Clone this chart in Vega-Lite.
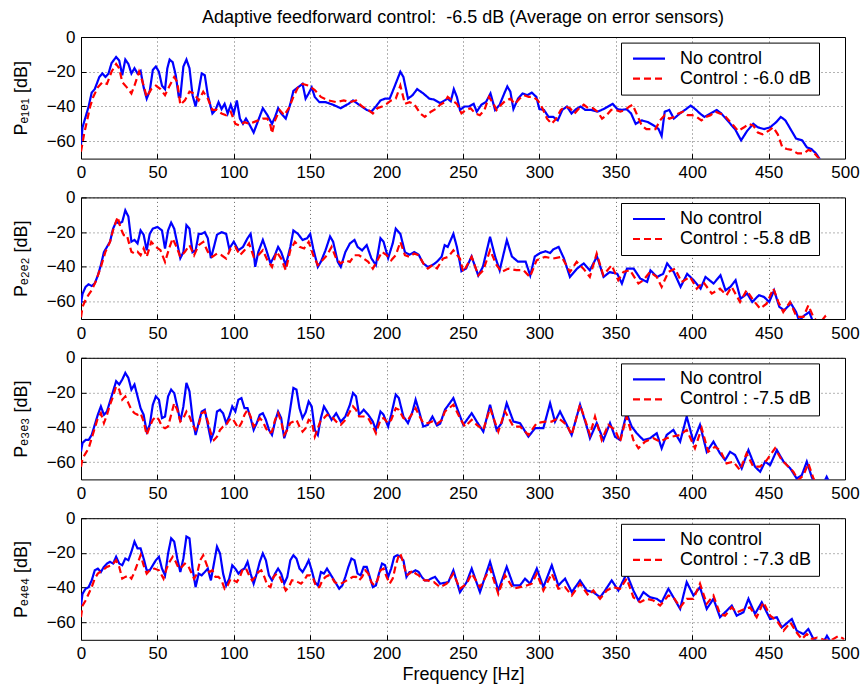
{
"$schema": "https://vega.github.io/schema/vega-lite/v6.json",
"background": "white",
"padding": {"left": 11, "top": 8, "right": 10, "bottom": 5},
"title": {"text": "Adaptive feedforward control:\u00a0 -6.5 dB (Average on error sensors)", "fontSize": 18, "fontWeight": "normal", "font": "Liberation Sans", "color": "#000", "anchor": "middle", "frame": "group", "offset": 1},
"config": {
 "font": "Liberation Sans",
 "view": {"stroke": "#000", "strokeWidth": 1},
 "axis": {"labelFontSize": 17, "labelColor": "#000", "titleFontSize": 18, "titleFontWeight": "normal", "titleColor": "#000", "grid": true, "gridColor": "#000", "gridDash": [1, 3], "gridOpacity": 0.6, "gridWidth": 1, "domain": false, "tickColor": "#000", "tickSize": -5, "labelFlush": false, "labelOverlap": false},
 "axisX": {"labelPadding": 11, "titlePadding": 4},
 "axisY": {"labelPadding": 11, "titlePadding": 16},
 "legend": {"symbolType": "M-3.2,0H3.2", "symbolSize": 100, "symbolStrokeWidth": 2.2, "symbolOffset": 12, "labelFontSize": 18, "labelColor": "#000", "labelOffset": 22, "padding": 7, "strokeColor": "#000", "fillColor": "#fff", "rowPadding": 2}
},
"spacing": 38.4,
"bounds": "flush",
"resolve": {"scale": {"color": "independent", "strokeDash": "independent"}, "legend": {"color": "independent", "strokeDash": "independent"}},
"vconcat": [
 {"width": 764, "height": 121.6, "layer": [
  {"data": {"name": "p1n"}, "mark": {"type": "line", "strokeWidth": 2.2, "clip": true}, "encoding": {
   "x": {"field": "f", "type": "quantitative", "scale": {"domain": [0, 500], "nice": false}, "axis": {"values": [0,50,100,150,200,250,300,350,400,450,500], "title": null}},
   "y": {"field": "v", "type": "quantitative", "scale": {"domain": [-70, 0], "nice": false}, "axis": {"values": [0,-20,-40,-60], "title": "Pₑ₁ₑ₁  [dB]"}},
   "color": {"datum": "No control", "type": "nominal", "scale": {"domain": ["No control", "Control : -6.0 dB"], "range": ["#0000ff", "#ff0000"]}, "legend": {"title": null, "orient": "none", "legendX": 540, "legendY": 5.6}},
   "strokeDash": {"datum": "No control", "type": "nominal", "scale": {"domain": ["No control", "Control : -6.0 dB"], "range": [[1, 0], [7, 4]]}, "legend": {"title": null, "orient": "none", "legendX": 540, "legendY": 5.6}}}},
  {"data": {"name": "p1c"}, "mark": {"type": "line", "strokeWidth": 2.2, "clip": true}, "encoding": {
   "x": {"field": "f", "type": "quantitative"},
   "y": {"field": "v", "type": "quantitative"},
   "color": {"datum": "Control : -6.0 dB", "type": "nominal"},
   "strokeDash": {"datum": "Control : -6.0 dB", "type": "nominal"}}}
 ]},
 {"width": 764, "height": 121.6, "layer": [
  {"data": {"name": "p2n"}, "mark": {"type": "line", "strokeWidth": 2.2, "clip": true}, "encoding": {
   "x": {"field": "f", "type": "quantitative", "scale": {"domain": [0, 500], "nice": false}, "axis": {"values": [0,50,100,150,200,250,300,350,400,450,500], "title": null}},
   "y": {"field": "v", "type": "quantitative", "scale": {"domain": [-70, 0], "nice": false}, "axis": {"values": [0,-20,-40,-60], "title": "Pₑ₂ₑ₂  [dB]"}},
   "color": {"datum": "No control", "type": "nominal", "scale": {"domain": ["No control", "Control : -5.8 dB"], "range": ["#0000ff", "#ff0000"]}, "legend": {"title": null, "orient": "none", "legendX": 540, "legendY": 5.6}},
   "strokeDash": {"datum": "No control", "type": "nominal", "scale": {"domain": ["No control", "Control : -5.8 dB"], "range": [[1, 0], [7, 4]]}, "legend": {"title": null, "orient": "none", "legendX": 540, "legendY": 5.6}}}},
  {"data": {"name": "p2c"}, "mark": {"type": "line", "strokeWidth": 2.2, "clip": true}, "encoding": {
   "x": {"field": "f", "type": "quantitative"},
   "y": {"field": "v", "type": "quantitative"},
   "color": {"datum": "Control : -5.8 dB", "type": "nominal"},
   "strokeDash": {"datum": "Control : -5.8 dB", "type": "nominal"}}}
 ]},
 {"width": 764, "height": 121.6, "layer": [
  {"data": {"name": "p3n"}, "mark": {"type": "line", "strokeWidth": 2.2, "clip": true}, "encoding": {
   "x": {"field": "f", "type": "quantitative", "scale": {"domain": [0, 500], "nice": false}, "axis": {"values": [0,50,100,150,200,250,300,350,400,450,500], "title": null}},
   "y": {"field": "v", "type": "quantitative", "scale": {"domain": [-70, 0], "nice": false}, "axis": {"values": [0,-20,-40,-60], "title": "Pₑ₃ₑ₃  [dB]"}},
   "color": {"datum": "No control", "type": "nominal", "scale": {"domain": ["No control", "Control : -7.5 dB"], "range": ["#0000ff", "#ff0000"]}, "legend": {"title": null, "orient": "none", "legendX": 540, "legendY": 5.6}},
   "strokeDash": {"datum": "No control", "type": "nominal", "scale": {"domain": ["No control", "Control : -7.5 dB"], "range": [[1, 0], [7, 4]]}, "legend": {"title": null, "orient": "none", "legendX": 540, "legendY": 5.6}}}},
  {"data": {"name": "p3c"}, "mark": {"type": "line", "strokeWidth": 2.2, "clip": true}, "encoding": {
   "x": {"field": "f", "type": "quantitative"},
   "y": {"field": "v", "type": "quantitative"},
   "color": {"datum": "Control : -7.5 dB", "type": "nominal"},
   "strokeDash": {"datum": "Control : -7.5 dB", "type": "nominal"}}}
 ]},
 {"width": 764, "height": 121.6, "layer": [
  {"data": {"name": "p4n"}, "mark": {"type": "line", "strokeWidth": 2.2, "clip": true}, "encoding": {
   "x": {"field": "f", "type": "quantitative", "scale": {"domain": [0, 500], "nice": false}, "axis": {"values": [0,50,100,150,200,250,300,350,400,450,500], "title": "Frequency [Hz]"}},
   "y": {"field": "v", "type": "quantitative", "scale": {"domain": [-70, 0], "nice": false}, "axis": {"values": [0,-20,-40,-60], "title": "Pₑ₄ₑ₄  [dB]"}},
   "color": {"datum": "No control", "type": "nominal", "scale": {"domain": ["No control", "Control : -7.3 dB"], "range": ["#0000ff", "#ff0000"]}, "legend": {"title": null, "orient": "none", "legendX": 540, "legendY": 5.6}},
   "strokeDash": {"datum": "No control", "type": "nominal", "scale": {"domain": ["No control", "Control : -7.3 dB"], "range": [[1, 0], [7, 4]]}, "legend": {"title": null, "orient": "none", "legendX": 540, "legendY": 5.6}}}},
  {"data": {"name": "p4c"}, "mark": {"type": "line", "strokeWidth": 2.2, "clip": true}, "encoding": {
   "x": {"field": "f", "type": "quantitative"},
   "y": {"field": "v", "type": "quantitative"},
   "color": {"datum": "Control : -7.3 dB", "type": "nominal"},
   "strokeDash": {"datum": "Control : -7.3 dB", "type": "nominal"}}}
 ]}
],
"datasets": {
"p1n": [{"f":0,"v":-62},{"f":1,"v":-52},{"f":3,"v":-46},{"f":5,"v":-40},{"f":7,"v":-32},{"f":9,"v":-30},{"f":12,"v":-23},{"f":14,"v":-21},{"f":16,"v":-23},{"f":18,"v":-21},{"f":20,"v":-15},{"f":23,"v":-11.5},{"f":25,"v":-13.5},{"f":27,"v":-22},{"f":29,"v":-13},{"f":31,"v":-15.5},{"f":33,"v":-21},{"f":35,"v":-18},{"f":37,"v":-21},{"f":39,"v":-19.5},{"f":41,"v":-29},{"f":43,"v":-35.5},{"f":45,"v":-31},{"f":47,"v":-19},{"f":49,"v":-17},{"f":51,"v":-20},{"f":53,"v":-28},{"f":55,"v":-30},{"f":56.5,"v":-18},{"f":58,"v":-13},{"f":60,"v":-14.5},{"f":62,"v":-22},{"f":64,"v":-34.5},{"f":65,"v":-34.5},{"f":67,"v":-17},{"f":69,"v":-13},{"f":71,"v":-18},{"f":73,"v":-33.5},{"f":75,"v":-40},{"f":77,"v":-31},{"f":79,"v":-21},{"f":81,"v":-22},{"f":83,"v":-33.5},{"f":86,"v":-44},{"f":88,"v":-42},{"f":90,"v":-37.5},{"f":92,"v":-41.5},{"f":94,"v":-38.5},{"f":96,"v":-44},{"f":98,"v":-39},{"f":100,"v":-44},{"f":102,"v":-36.5},{"f":104,"v":-47},{"f":106,"v":-50},{"f":108,"v":-47},{"f":110,"v":-50},{"f":113,"v":-55},{"f":116,"v":-48},{"f":119,"v":-41},{"f":122,"v":-45},{"f":125,"v":-50},{"f":127,"v":-46},{"f":129,"v":-41},{"f":131,"v":-44},{"f":134,"v":-47},{"f":137,"v":-38.5},{"f":139,"v":-31},{"f":142,"v":-29},{"f":145,"v":-27},{"f":147,"v":-35.5},{"f":149,"v":-32.5},{"f":151,"v":-29},{"f":153,"v":-34.5},{"f":156,"v":-37.5},{"f":160,"v":-37.5},{"f":165,"v":-39},{"f":170,"v":-41},{"f":175,"v":-38.5},{"f":178,"v":-36.5},{"f":182,"v":-39},{"f":187,"v":-42},{"f":190,"v":-43},{"f":193,"v":-40},{"f":196,"v":-36.5},{"f":199,"v":-35.5},{"f":202,"v":-35.5},{"f":205,"v":-29},{"f":209,"v":-20},{"f":211,"v":-23},{"f":214,"v":-35.5},{"f":217,"v":-33.5},{"f":220,"v":-30},{"f":224,"v":-32.5},{"f":228,"v":-35.5},{"f":231,"v":-36},{"f":235,"v":-38},{"f":238,"v":-36.5},{"f":240,"v":-35.5},{"f":242,"v":-37},{"f":244,"v":-30},{"f":246,"v":-34.5},{"f":248,"v":-42},{"f":251,"v":-40},{"f":254,"v":-40},{"f":257,"v":-38.5},{"f":259,"v":-43},{"f":262,"v":-39},{"f":265,"v":-37.5},{"f":268,"v":-32.5},{"f":271,"v":-42},{"f":274,"v":-39},{"f":277,"v":-32.5},{"f":279,"v":-28.5},{"f":281,"v":-31.5},{"f":283,"v":-41.5},{"f":286,"v":-35.5},{"f":289,"v":-32.5},{"f":292,"v":-33.5},{"f":295,"v":-32},{"f":298,"v":-34.5},{"f":300,"v":-41.5},{"f":303,"v":-42},{"f":306,"v":-46},{"f":309,"v":-46},{"f":312,"v":-48},{"f":315,"v":-42},{"f":318,"v":-40},{"f":321,"v":-44},{"f":324,"v":-41.5},{"f":327,"v":-40},{"f":330,"v":-42},{"f":334,"v":-42},{"f":338,"v":-43},{"f":342,"v":-41.5},{"f":345,"v":-40},{"f":348,"v":-38.5},{"f":351,"v":-41.5},{"f":354,"v":-42},{"f":357,"v":-41.5},{"f":360,"v":-44},{"f":363,"v":-50},{"f":367,"v":-48},{"f":371,"v":-49},{"f":375,"v":-51},{"f":378,"v":-53},{"f":380,"v":-57},{"f":382,"v":-43},{"f":385,"v":-42},{"f":388,"v":-47},{"f":392,"v":-44},{"f":396,"v":-41.5},{"f":399,"v":-39.5},{"f":402,"v":-41.5},{"f":405,"v":-44},{"f":408,"v":-46},{"f":412,"v":-44},{"f":416,"v":-42},{"f":419,"v":-44},{"f":422,"v":-47},{"f":425,"v":-50},{"f":428,"v":-53},{"f":432,"v":-59.5},{"f":436,"v":-54},{"f":440,"v":-50},{"f":443,"v":-52},{"f":447,"v":-53},{"f":451,"v":-52},{"f":455,"v":-49},{"f":458,"v":-46},{"f":461,"v":-48},{"f":465,"v":-54},{"f":468,"v":-58.5},{"f":472,"v":-59.5},{"f":475,"v":-63.5},{"f":478,"v":-64.5},{"f":481,"v":-67},{"f":484,"v":-71},{"f":487,"v":-75}],
"p1c": [{"f":0,"v":-66},{"f":2,"v":-56},{"f":4,"v":-48},{"f":6,"v":-40},{"f":8,"v":-34.5},{"f":11,"v":-29},{"f":14,"v":-26},{"f":17,"v":-27},{"f":20,"v":-20},{"f":23,"v":-15.5},{"f":25,"v":-18},{"f":27,"v":-26},{"f":30,"v":-29},{"f":33,"v":-32.5},{"f":35,"v":-28},{"f":38,"v":-20},{"f":40,"v":-25},{"f":43,"v":-34.5},{"f":46,"v":-30},{"f":49,"v":-28},{"f":52,"v":-30},{"f":55,"v":-33.5},{"f":58,"v":-28},{"f":61,"v":-23},{"f":63,"v":-26},{"f":65,"v":-39},{"f":68,"v":-36.5},{"f":71,"v":-31.5},{"f":74,"v":-32.5},{"f":77,"v":-36.5},{"f":80,"v":-31.5},{"f":83,"v":-35.5},{"f":86,"v":-42},{"f":89,"v":-42},{"f":92,"v":-44},{"f":95,"v":-45},{"f":98,"v":-43},{"f":101,"v":-50},{"f":104,"v":-51},{"f":107,"v":-49},{"f":110,"v":-50},{"f":113,"v":-49},{"f":116,"v":-48},{"f":119,"v":-47},{"f":122,"v":-47},{"f":124,"v":-51},{"f":125,"v":-55.5},{"f":127,"v":-48},{"f":130,"v":-42},{"f":133,"v":-45},{"f":136,"v":-41},{"f":139,"v":-34.5},{"f":142,"v":-29},{"f":145,"v":-27},{"f":149,"v":-28},{"f":153,"v":-30.5},{"f":157,"v":-34.5},{"f":162,"v":-36.5},{"f":167,"v":-37.5},{"f":172,"v":-36.5},{"f":176,"v":-37.5},{"f":180,"v":-36.5},{"f":184,"v":-40},{"f":188,"v":-42},{"f":191,"v":-44},{"f":194,"v":-41},{"f":197,"v":-40},{"f":200,"v":-38.5},{"f":203,"v":-36.5},{"f":206,"v":-35.5},{"f":209,"v":-28},{"f":212,"v":-38.5},{"f":215,"v":-37.5},{"f":218,"v":-38.5},{"f":222,"v":-44},{"f":225,"v":-46},{"f":229,"v":-43},{"f":233,"v":-41},{"f":235,"v":-39},{"f":238,"v":-37.5},{"f":240,"v":-34.5},{"f":243,"v":-36.5},{"f":246,"v":-38.5},{"f":249,"v":-44},{"f":252,"v":-42},{"f":255,"v":-41},{"f":258,"v":-44},{"f":261,"v":-45},{"f":264,"v":-42},{"f":267,"v":-34.5},{"f":270,"v":-38.5},{"f":272,"v":-42},{"f":275,"v":-39},{"f":278,"v":-36.5},{"f":281,"v":-35.5},{"f":284,"v":-38.5},{"f":287,"v":-35.5},{"f":290,"v":-33.5},{"f":293,"v":-34.5},{"f":296,"v":-34.5},{"f":299,"v":-36.5},{"f":302,"v":-41},{"f":305,"v":-47},{"f":308,"v":-50},{"f":311,"v":-47},{"f":314,"v":-42},{"f":317,"v":-40},{"f":320,"v":-41},{"f":323,"v":-44},{"f":326,"v":-41},{"f":329,"v":-39},{"f":332,"v":-41},{"f":335,"v":-41},{"f":338,"v":-43},{"f":341,"v":-47},{"f":344,"v":-45},{"f":347,"v":-42},{"f":350,"v":-42},{"f":353,"v":-43},{"f":356,"v":-42},{"f":359,"v":-40},{"f":361,"v":-39},{"f":364,"v":-45},{"f":367,"v":-51},{"f":370,"v":-53},{"f":373,"v":-53},{"f":376,"v":-53},{"f":379,"v":-48},{"f":382,"v":-45},{"f":385,"v":-47},{"f":388,"v":-46},{"f":391,"v":-44},{"f":394,"v":-43},{"f":397,"v":-45},{"f":400,"v":-45},{"f":403,"v":-46},{"f":406,"v":-48},{"f":409,"v":-46},{"f":412,"v":-45},{"f":415,"v":-43},{"f":418,"v":-44},{"f":421,"v":-45},{"f":424,"v":-48},{"f":427,"v":-51},{"f":430,"v":-54},{"f":434,"v":-52},{"f":437,"v":-50},{"f":440,"v":-51},{"f":443,"v":-55},{"f":446,"v":-56},{"f":450,"v":-54},{"f":453,"v":-52},{"f":456,"v":-56},{"f":459,"v":-63.5},{"f":462,"v":-64.5},{"f":465,"v":-65},{"f":469,"v":-67},{"f":473,"v":-67},{"f":476,"v":-65},{"f":479,"v":-66},{"f":482,"v":-69},{"f":484,"v":-71},{"f":487,"v":-75}],
"p2n": [{"f":0,"v":-61},{"f":1,"v":-55.5},{"f":3,"v":-51.5},{"f":5,"v":-50},{"f":7,"v":-51},{"f":9,"v":-49.5},{"f":11,"v":-45},{"f":13,"v":-39},{"f":15,"v":-31.5},{"f":17,"v":-28.5},{"f":19,"v":-25.5},{"f":21,"v":-18},{"f":23,"v":-14},{"f":25,"v":-15},{"f":27,"v":-14},{"f":29,"v":-7.5},{"f":31,"v":-11},{"f":33,"v":-25.5},{"f":35,"v":-24.5},{"f":37,"v":-26.5},{"f":39,"v":-19},{"f":41,"v":-21.5},{"f":43,"v":-30.5},{"f":45,"v":-21},{"f":47,"v":-18},{"f":50,"v":-17},{"f":53,"v":-19},{"f":55,"v":-29.5},{"f":57,"v":-19},{"f":59,"v":-14.5},{"f":61,"v":-18},{"f":63,"v":-26.5},{"f":65,"v":-35},{"f":67,"v":-31.5},{"f":69,"v":-16},{"f":71,"v":-18},{"f":73,"v":-31.5},{"f":75,"v":-30.5},{"f":77,"v":-21},{"f":79,"v":-21},{"f":81,"v":-20},{"f":83,"v":-23.5},{"f":85,"v":-35},{"f":87,"v":-28.5},{"f":89,"v":-21.5},{"f":92,"v":-20},{"f":95,"v":-21},{"f":97,"v":-29.5},{"f":100,"v":-25.5},{"f":103,"v":-30.5},{"f":106,"v":-28.5},{"f":109,"v":-23.5},{"f":111,"v":-21},{"f":113,"v":-31.5},{"f":114,"v":-40},{"f":116,"v":-31.5},{"f":119,"v":-24.5},{"f":121,"v":-29.5},{"f":124,"v":-38},{"f":127,"v":-33},{"f":129,"v":-28.5},{"f":131,"v":-31.5},{"f":134,"v":-39},{"f":137,"v":-28.5},{"f":139,"v":-19},{"f":142,"v":-21},{"f":145,"v":-24.5},{"f":148,"v":-23.5},{"f":150,"v":-21},{"f":152,"v":-29.5},{"f":155,"v":-40},{"f":157,"v":-37},{"f":160,"v":-30.5},{"f":163,"v":-22.5},{"f":165,"v":-25.5},{"f":168,"v":-37},{"f":170,"v":-40},{"f":173,"v":-31.5},{"f":176,"v":-26.5},{"f":179,"v":-24.5},{"f":181,"v":-28.5},{"f":184,"v":-30.5},{"f":187,"v":-27.5},{"f":190,"v":-35},{"f":193,"v":-39},{"f":196,"v":-23.5},{"f":198,"v":-25.5},{"f":201,"v":-35},{"f":204,"v":-26.5},{"f":206,"v":-18},{"f":209,"v":-21},{"f":212,"v":-31.5},{"f":215,"v":-33},{"f":218,"v":-31.5},{"f":221,"v":-33},{"f":224,"v":-38},{"f":227,"v":-40},{"f":230,"v":-39},{"f":233,"v":-37},{"f":236,"v":-34.2},{"f":238,"v":-27.5},{"f":240,"v":-28.5},{"f":243.7,"v":-21},{"f":246,"v":-28.5},{"f":249,"v":-42.5},{"f":252,"v":-41},{"f":255.6,"v":-34},{"f":260,"v":-45},{"f":263,"v":-40},{"f":267.7,"v":-22.7},{"f":271,"v":-34},{"f":274,"v":-42},{"f":278.7,"v":-24.6},{"f":282,"v":-34},{"f":286,"v":-37},{"f":291,"v":-37},{"f":294,"v":-45},{"f":297,"v":-34},{"f":300.5,"v":-32},{"f":304,"v":-31},{"f":307,"v":-32},{"f":309,"v":-30},{"f":312.6,"v":-28.5},{"f":316,"v":-35},{"f":320,"v":-45.8},{"f":324.6,"v":-41},{"f":329,"v":-38},{"f":333,"v":-42},{"f":337.7,"v":-34},{"f":342,"v":-45.8},{"f":346,"v":-43},{"f":351,"v":-44},{"f":354,"v":-49.6},{"f":357.3,"v":-41},{"f":361.7,"v":-41},{"f":366,"v":-46.7},{"f":370.5,"v":-48.7},{"f":372.7,"v":-42},{"f":377,"v":-45.8},{"f":381,"v":-44},{"f":383.6,"v":-38},{"f":388,"v":-43},{"f":392.4,"v":-51.5},{"f":396.7,"v":-44},{"f":401,"v":-47.7},{"f":405.5,"v":-52.5},{"f":408.7,"v":-45.8},{"f":414,"v":-49.6},{"f":418.5,"v":-44.8},{"f":421.8,"v":-53.5},{"f":425,"v":-51.5},{"f":428.4,"v":-47.7},{"f":431.6,"v":-58.3},{"f":436,"v":-55.4},{"f":439.3,"v":-60.2},{"f":443.7,"v":-56.3},{"f":447,"v":-57.3},{"f":450.4,"v":-60.2},{"f":453.6,"v":-53.5},{"f":457,"v":-63},{"f":460.2,"v":-65},{"f":464.6,"v":-61},{"f":468,"v":-66},{"f":470,"v":-71},{"f":473.3,"v":-68},{"f":476.6,"v":-66},{"f":478.8,"v":-71},{"f":481,"v":-75}],
"p2c": [{"f":0,"v":-69},{"f":1,"v":-63},{"f":3,"v":-59},{"f":5,"v":-56},{"f":7,"v":-53.5},{"f":10,"v":-47.7},{"f":13,"v":-40},{"f":16,"v":-31.3},{"f":19,"v":-25.6},{"f":21,"v":-18.8},{"f":24,"v":-11.2},{"f":26,"v":-17.9},{"f":28,"v":-21.7},{"f":30,"v":-21.7},{"f":33,"v":-31.3},{"f":35,"v":-32.3},{"f":37,"v":-31.3},{"f":39,"v":-33.3},{"f":41,"v":-29.4},{"f":43,"v":-34.2},{"f":46,"v":-25.6},{"f":49,"v":-28.5},{"f":52,"v":-30.4},{"f":55,"v":-37.1},{"f":58,"v":-28.5},{"f":60,"v":-23.7},{"f":62,"v":-27.5},{"f":65,"v":-34.2},{"f":68,"v":-31.3},{"f":71,"v":-27.5},{"f":74,"v":-33.3},{"f":77,"v":-27.5},{"f":80,"v":-25.6},{"f":83,"v":-31.3},{"f":86,"v":-34.2},{"f":89,"v":-32.3},{"f":92,"v":-33.3},{"f":95,"v":-35.2},{"f":98,"v":-29.4},{"f":101,"v":-28.5},{"f":104,"v":-33.3},{"f":107,"v":-30.4},{"f":110,"v":-26.5},{"f":113,"v":-34.2},{"f":116,"v":-33.3},{"f":119,"v":-30.4},{"f":122,"v":-36.2},{"f":125,"v":-40},{"f":128,"v":-31.3},{"f":131,"v":-35.2},{"f":134,"v":-41.9},{"f":137,"v":-30.4},{"f":140,"v":-25.6},{"f":143,"v":-28.5},{"f":146,"v":-29.4},{"f":149,"v":-25.6},{"f":152,"v":-33.3},{"f":155,"v":-39},{"f":158,"v":-36.2},{"f":161,"v":-33.3},{"f":164,"v":-28.5},{"f":167,"v":-35.2},{"f":170,"v":-38},{"f":173,"v":-36.2},{"f":176,"v":-37.1},{"f":179,"v":-33.3},{"f":182,"v":-33.3},{"f":185,"v":-35.2},{"f":188,"v":-37.1},{"f":191,"v":-41},{"f":194,"v":-36.2},{"f":197,"v":-31.3},{"f":200,"v":-33.3},{"f":203,"v":-36.2},{"f":206,"v":-33.3},{"f":209,"v":-25.6},{"f":212,"v":-33.3},{"f":215,"v":-34.2},{"f":218,"v":-32.3},{"f":221,"v":-33.3},{"f":224,"v":-38},{"f":227,"v":-41},{"f":230,"v":-39},{"f":233,"v":-40.9},{"f":237,"v":-35.2},{"f":240.4,"v":-34.2},{"f":243.7,"v":-30.4},{"f":248,"v":-35.2},{"f":250.2,"v":-42.9},{"f":255.7,"v":-34.2},{"f":260,"v":-44.8},{"f":263.3,"v":-41.9},{"f":267.7,"v":-30.4},{"f":272,"v":-39},{"f":275.3,"v":-42.9},{"f":279.7,"v":-41},{"f":285,"v":-41.9},{"f":289.5,"v":-41.9},{"f":293.8,"v":-45.8},{"f":298.2,"v":-36.2},{"f":303.7,"v":-34.2},{"f":309,"v":-35.2},{"f":314.6,"v":-34.2},{"f":320,"v":-42.9},{"f":324.4,"v":-37.1},{"f":328.8,"v":-41},{"f":333,"v":-45.8},{"f":337.5,"v":-32.3},{"f":341.8,"v":-44.8},{"f":347.3,"v":-39},{"f":351.6,"v":-47.7},{"f":355,"v":-42.9},{"f":359.3,"v":-41.9},{"f":364.8,"v":-49.6},{"f":368,"v":-47.7},{"f":372.4,"v":-42.9},{"f":376.8,"v":-45.8},{"f":380,"v":-51.5},{"f":384.4,"v":-42.9},{"f":388.8,"v":-41},{"f":393,"v":-48.7},{"f":398.6,"v":-45.8},{"f":403,"v":-52.5},{"f":407.3,"v":-48.7},{"f":412.8,"v":-55.4},{"f":418.2,"v":-52.5},{"f":422.5,"v":-56.3},{"f":425.8,"v":-51.5},{"f":431.3,"v":-60.2},{"f":435.6,"v":-53.5},{"f":440,"v":-59.2},{"f":444.4,"v":-64},{"f":448.7,"v":-61.2},{"f":453.1,"v":-52.5},{"f":456.4,"v":-60.2},{"f":459.6,"v":-66},{"f":464,"v":-60.2},{"f":468.4,"v":-68.8},{"f":472.8,"v":-68.8},{"f":476,"v":-62.1},{"f":479.3,"v":-68.8},{"f":483,"v":-73},{"f":487,"v":-68.5},{"f":489,"v":-71},{"f":491,"v":-75}],
"p3n": [{"f":0,"v":-54},{"f":1,"v":-49},{"f":3,"v":-47.3},{"f":5,"v":-47.3},{"f":7,"v":-44.4},{"f":9,"v":-38.6},{"f":11,"v":-32.8},{"f":13,"v":-28},{"f":15,"v":-32.8},{"f":17,"v":-30.9},{"f":19,"v":-25.1},{"f":21,"v":-19.3},{"f":23,"v":-13.5},{"f":25,"v":-15.4},{"f":27,"v":-12.5},{"f":29,"v":-8.7},{"f":31,"v":-11.6},{"f":33,"v":-18.3},{"f":35,"v":-15.4},{"f":37,"v":-22.2},{"f":39,"v":-29},{"f":41,"v":-32.8},{"f":43,"v":-42.5},{"f":45,"v":-38.6},{"f":47,"v":-27},{"f":49,"v":-22.2},{"f":51,"v":-24.1},{"f":53,"v":-34.7},{"f":55,"v":-33.8},{"f":57,"v":-22.2},{"f":59,"v":-18.3},{"f":61,"v":-20.3},{"f":63,"v":-28},{"f":65,"v":-36.7},{"f":67,"v":-28},{"f":69,"v":-14.5},{"f":71,"v":-19.3},{"f":73,"v":-34.7},{"f":75,"v":-44.4},{"f":77,"v":-37.6},{"f":79,"v":-30.9},{"f":81,"v":-29.9},{"f":83,"v":-38.6},{"f":85,"v":-47.3},{"f":87,"v":-42.5},{"f":89,"v":-30.9},{"f":91,"v":-29.9},{"f":93,"v":-31.9},{"f":95,"v":-37.6},{"f":97,"v":-33.8},{"f":99,"v":-28},{"f":101,"v":-30.9},{"f":103,"v":-24.1},{"f":105,"v":-23.2},{"f":107,"v":-29},{"f":109,"v":-29},{"f":111,"v":-34.7},{"f":113,"v":-41.5},{"f":115,"v":-37.6},{"f":117,"v":-32.8},{"f":119,"v":-31.9},{"f":121,"v":-35.7},{"f":123,"v":-41.5},{"f":125,"v":-44.4},{"f":127,"v":-36.7},{"f":129,"v":-30.9},{"f":131,"v":-34.7},{"f":133,"v":-46.3},{"f":135,"v":-40.5},{"f":137,"v":-29},{"f":139,"v":-17.4},{"f":141,"v":-18.3},{"f":143,"v":-29},{"f":145,"v":-34.7},{"f":147,"v":-31.5},{"f":149,"v":-25.1},{"f":151,"v":-28},{"f":153,"v":-41.5},{"f":155,"v":-44.4},{"f":157,"v":-34.7},{"f":159,"v":-28},{"f":161,"v":-30.9},{"f":164,"v":-35.7},{"f":167,"v":-31.9},{"f":170,"v":-36.7},{"f":173,"v":-33.8},{"f":176,"v":-27},{"f":178,"v":-20.3},{"f":180,"v":-22.2},{"f":182,"v":-32.8},{"f":185,"v":-29.9},{"f":188,"v":-32.8},{"f":191,"v":-36.7},{"f":193,"v":-41.5},{"f":196,"v":-30.9},{"f":198,"v":-32.8},{"f":201,"v":-39.6},{"f":203,"v":-32.8},{"f":206,"v":-21.2},{"f":208,"v":-23.2},{"f":211,"v":-33.8},{"f":214,"v":-37.6},{"f":217,"v":-30.9},{"f":219,"v":-24.1},{"f":221,"v":-29.9},{"f":224,"v":-39.6},{"f":227,"v":-38.6},{"f":230,"v":-33.8},{"f":233,"v":-39},{"f":235,"v":-38},{"f":238.2,"v":-29.9},{"f":243.7,"v":-23.2},{"f":246.9,"v":-30.9},{"f":250.2,"v":-38.6},{"f":255.7,"v":-31.9},{"f":259,"v":-36.7},{"f":263.3,"v":-42.5},{"f":267.7,"v":-27},{"f":272,"v":-41.5},{"f":275.3,"v":-37.6},{"f":278.6,"v":-26.1},{"f":283,"v":-36.7},{"f":287.3,"v":-37.6},{"f":292.8,"v":-45.4},{"f":297.2,"v":-40.5},{"f":302.6,"v":-40.5},{"f":307,"v":-26.1},{"f":310.2,"v":-36.7},{"f":313.5,"v":-30.9},{"f":317.9,"v":-38.6},{"f":321.1,"v":-44.4},{"f":326.6,"v":-27},{"f":331,"v":-39.6},{"f":333.1,"v":-46.3},{"f":337.5,"v":-37.6},{"f":341.9,"v":-47.3},{"f":346.2,"v":-37.6},{"f":349.5,"v":-45.4},{"f":352.8,"v":-47.3},{"f":357.1,"v":-31.9},{"f":360.4,"v":-39.6},{"f":363.7,"v":-43.4},{"f":368,"v":-47.3},{"f":372.4,"v":-46.3},{"f":376.8,"v":-43.4},{"f":380,"v":-52.1},{"f":383.3,"v":-44.4},{"f":387.7,"v":-41.5},{"f":392.1,"v":-48.3},{"f":396.4,"v":-33.8},{"f":400.8,"v":-48.3},{"f":405.1,"v":-38.6},{"f":409.5,"v":-54.1},{"f":413.9,"v":-48.3},{"f":418.2,"v":-55},{"f":421.5,"v":-58.9},{"f":424.8,"v":-54.1},{"f":428.1,"v":-56},{"f":432.4,"v":-63.7},{"f":436.8,"v":-53.1},{"f":441.1,"v":-62.7},{"f":444.5,"v":-65.6},{"f":447.7,"v":-59.8},{"f":451,"v":-61.8},{"f":455.4,"v":-53.1},{"f":459.8,"v":-59.8},{"f":464.2,"v":-63.7},{"f":468.4,"v":-69.5},{"f":471.7,"v":-67.6},{"f":475,"v":-59.8},{"f":478.2,"v":-68.5},{"f":480,"v":-72},{"f":484,"v":-76},{"f":488,"v":-68.5},{"f":490,"v":-72},{"f":492,"v":-76}],
"p3c": [{"f":0,"v":-62.7},{"f":1,"v":-57.9},{"f":3,"v":-55},{"f":5,"v":-52.1},{"f":7,"v":-46.3},{"f":9,"v":-40.5},{"f":11,"v":-34.7},{"f":13,"v":-31.9},{"f":15,"v":-37.6},{"f":17,"v":-32.8},{"f":19,"v":-27},{"f":21,"v":-22.2},{"f":23,"v":-16.4},{"f":25,"v":-18.3},{"f":27,"v":-24.1},{"f":29,"v":-22.2},{"f":31,"v":-26.1},{"f":33,"v":-29.9},{"f":35,"v":-31.9},{"f":37,"v":-32.8},{"f":39,"v":-31.9},{"f":41,"v":-36.7},{"f":43,"v":-44.4},{"f":45,"v":-39.6},{"f":47,"v":-35.7},{"f":49,"v":-33.8},{"f":51,"v":-35.7},{"f":53,"v":-39.6},{"f":55,"v":-40.5},{"f":57,"v":-39.6},{"f":59,"v":-32.8},{"f":61,"v":-26.1},{"f":63,"v":-29.9},{"f":65,"v":-36.7},{"f":67,"v":-34.7},{"f":69,"v":-30.9},{"f":71,"v":-33.8},{"f":73,"v":-38.6},{"f":75,"v":-41.5},{"f":77,"v":-38.6},{"f":79,"v":-31.9},{"f":81,"v":-30.9},{"f":83,"v":-36.7},{"f":85,"v":-43.4},{"f":87,"v":-47.3},{"f":89,"v":-45.4},{"f":91,"v":-41.5},{"f":93,"v":-39.6},{"f":95,"v":-38.6},{"f":97,"v":-35.7},{"f":99,"v":-34.7},{"f":101,"v":-37.6},{"f":103,"v":-40.5},{"f":105,"v":-37.6},{"f":107,"v":-32.8},{"f":109,"v":-29.9},{"f":111,"v":-33.8},{"f":113,"v":-39.6},{"f":115,"v":-37.6},{"f":117,"v":-34.7},{"f":119,"v":-36.7},{"f":121,"v":-40.5},{"f":123,"v":-43.4},{"f":125,"v":-42.5},{"f":127,"v":-35.7},{"f":129,"v":-31.9},{"f":131,"v":-36.7},{"f":133,"v":-44.4},{"f":135,"v":-41.5},{"f":137,"v":-37.6},{"f":139,"v":-36.7},{"f":141,"v":-35.7},{"f":143,"v":-39.6},{"f":145,"v":-42.5},{"f":147,"v":-40.5},{"f":149,"v":-35.7},{"f":151,"v":-36.7},{"f":153,"v":-45.4},{"f":155,"v":-40.5},{"f":157,"v":-35.7},{"f":159,"v":-34.7},{"f":161,"v":-32.8},{"f":164,"v":-33.8},{"f":167,"v":-36.7},{"f":170,"v":-38.6},{"f":173,"v":-35.7},{"f":176,"v":-30.9},{"f":178,"v":-28},{"f":180,"v":-29.9},{"f":182,"v":-33.8},{"f":185,"v":-33.8},{"f":188,"v":-34.7},{"f":191,"v":-39.6},{"f":193,"v":-43.4},{"f":196,"v":-35.7},{"f":198,"v":-34.7},{"f":201,"v":-37.6},{"f":203,"v":-35.7},{"f":206,"v":-29},{"f":208,"v":-29.9},{"f":211,"v":-34.7},{"f":214,"v":-35.7},{"f":217,"v":-31.9},{"f":219,"v":-29},{"f":221,"v":-32.8},{"f":224,"v":-37.6},{"f":227,"v":-37.6},{"f":230,"v":-36.7},{"f":233,"v":-38},{"f":236,"v":-36},{"f":238.2,"v":-30.9},{"f":243.7,"v":-27},{"f":248,"v":-34.7},{"f":251.3,"v":-39.6},{"f":255.7,"v":-35.7},{"f":259,"v":-38.6},{"f":263.3,"v":-41.5},{"f":267.7,"v":-29},{"f":273.1,"v":-42.5},{"f":277.5,"v":-30.9},{"f":283,"v":-39.6},{"f":287.3,"v":-39.6},{"f":292.8,"v":-44.4},{"f":298.2,"v":-37.6},{"f":303.7,"v":-36.7},{"f":308.1,"v":-36.7},{"f":312.4,"v":-34.7},{"f":317.9,"v":-38.6},{"f":321.1,"v":-44.4},{"f":326.6,"v":-27},{"f":331,"v":-38.6},{"f":333.1,"v":-44.4},{"f":336.4,"v":-33.8},{"f":340.8,"v":-47.3},{"f":345.1,"v":-38.6},{"f":349.5,"v":-41.5},{"f":352.8,"v":-48.3},{"f":357.1,"v":-33.8},{"f":361.5,"v":-47.3},{"f":364.8,"v":-52.1},{"f":369.1,"v":-48.3},{"f":374.6,"v":-46.3},{"f":379,"v":-48.3},{"f":383.3,"v":-46.3},{"f":386.6,"v":-45.4},{"f":392.1,"v":-44.4},{"f":396.4,"v":-41.5},{"f":401.8,"v":-52.1},{"f":406.2,"v":-40.5},{"f":410.5,"v":-54.1},{"f":414.9,"v":-51.2},{"f":418.2,"v":-53.1},{"f":422.5,"v":-60.8},{"f":426.9,"v":-59.8},{"f":431.3,"v":-64.7},{"f":435.6,"v":-55},{"f":440,"v":-62.7},{"f":444.4,"v":-62.7},{"f":448.8,"v":-58.9},{"f":454.2,"v":-52.1},{"f":458.6,"v":-58.9},{"f":463,"v":-62.7},{"f":466.2,"v":-65.6},{"f":469.5,"v":-70.4},{"f":472.8,"v":-67.6},{"f":476,"v":-60.8},{"f":479.4,"v":-69.5},{"f":482,"v":-74}],
"p4n": [{"f":0,"v":-50.3},{"f":1,"v":-43.5},{"f":3,"v":-40.6},{"f":5,"v":-39.7},{"f":7,"v":-35.8},{"f":9,"v":-30},{"f":11,"v":-29},{"f":13,"v":-31},{"f":15,"v":-28},{"f":17,"v":-26.1},{"f":19,"v":-25.1},{"f":21,"v":-26.1},{"f":23,"v":-22.2},{"f":25,"v":-26.1},{"f":27,"v":-27.1},{"f":29,"v":-23.2},{"f":31,"v":-24.2},{"f":33,"v":-19.3},{"f":35,"v":-13.5},{"f":37,"v":-17.4},{"f":39,"v":-17.4},{"f":41,"v":-23.2},{"f":43,"v":-30},{"f":45,"v":-30},{"f":47,"v":-27.1},{"f":49,"v":-24.2},{"f":51,"v":-22.2},{"f":53,"v":-29},{"f":55,"v":-32.9},{"f":57,"v":-20.3},{"f":59,"v":-11.6},{"f":61,"v":-13.5},{"f":63,"v":-23.2},{"f":65,"v":-31},{"f":67,"v":-23.2},{"f":69,"v":-10.6},{"f":71,"v":-11.6},{"f":73,"v":-29},{"f":75,"v":-39.7},{"f":77,"v":-31.9},{"f":79,"v":-32.9},{"f":81,"v":-31},{"f":83,"v":-29},{"f":85,"v":-35.8},{"f":87,"v":-26.1},{"f":89,"v":-16.4},{"f":91,"v":-20.3},{"f":93,"v":-31.9},{"f":95,"v":-38.7},{"f":97,"v":-34.8},{"f":99,"v":-27.1},{"f":101,"v":-29},{"f":103,"v":-31.9},{"f":105,"v":-30},{"f":107,"v":-29},{"f":109,"v":-25.1},{"f":111,"v":-31.9},{"f":113,"v":-37.7},{"f":115,"v":-31.9},{"f":117,"v":-25.1},{"f":119,"v":-20.3},{"f":121,"v":-24.2},{"f":123,"v":-32.9},{"f":125,"v":-35.8},{"f":127,"v":-31.9},{"f":129,"v":-29},{"f":131,"v":-31.9},{"f":133,"v":-37.7},{"f":135,"v":-33.8},{"f":137,"v":-24.2},{"f":139,"v":-21.3},{"f":141,"v":-23.2},{"f":143,"v":-29},{"f":145,"v":-31},{"f":147,"v":-28},{"f":149,"v":-24.2},{"f":151,"v":-30},{"f":153,"v":-36.8},{"f":155,"v":-38.7},{"f":157,"v":-31},{"f":159,"v":-31.9},{"f":161,"v":-29},{"f":163,"v":-31.9},{"f":165,"v":-34.8},{"f":167,"v":-37.7},{"f":169,"v":-40.6},{"f":171,"v":-38.7},{"f":173,"v":-33.8},{"f":175,"v":-28},{"f":177,"v":-23.2},{"f":179,"v":-24.2},{"f":181,"v":-31.9},{"f":183,"v":-32.9},{"f":185,"v":-28},{"f":187,"v":-28},{"f":189,"v":-33.8},{"f":191,"v":-39.7},{"f":193,"v":-38.7},{"f":195,"v":-31.9},{"f":197,"v":-26.1},{"f":199,"v":-27.1},{"f":201,"v":-33.8},{"f":203,"v":-29},{"f":205,"v":-22.2},{"f":207,"v":-21.3},{"f":209,"v":-22.2},{"f":211,"v":-24.2},{"f":213,"v":-33.8},{"f":215,"v":-31},{"f":217,"v":-31},{"f":219,"v":-30},{"f":221,"v":-31},{"f":223,"v":-33.8},{"f":225,"v":-35.8},{"f":227,"v":-35.8},{"f":229,"v":-34.8},{"f":231.7,"v":-33.8},{"f":235,"v":-37.7},{"f":240.4,"v":-36.8},{"f":243.7,"v":-30},{"f":248,"v":-42.6},{"f":252.4,"v":-36.8},{"f":255.7,"v":-29},{"f":261.1,"v":-42.6},{"f":267.7,"v":-25.1},{"f":273.1,"v":-41.6},{"f":278.6,"v":-28},{"f":283,"v":-38.7},{"f":287.3,"v":-38.7},{"f":290.6,"v":-34.8},{"f":293.9,"v":-37.7},{"f":298.3,"v":-29},{"f":302.6,"v":-39.7},{"f":308.1,"v":-27.1},{"f":312.4,"v":-38.7},{"f":316.8,"v":-34.8},{"f":321.2,"v":-42.6},{"f":326.6,"v":-35.8},{"f":331,"v":-41.6},{"f":335.3,"v":-42.6},{"f":339.7,"v":-45.5},{"f":343,"v":-41.6},{"f":347.3,"v":-35.8},{"f":351.7,"v":-41.6},{"f":357.1,"v":-31.9},{"f":361.5,"v":-41.6},{"f":364.8,"v":-47.4},{"f":368.1,"v":-42.6},{"f":372.4,"v":-45.5},{"f":376.8,"v":-46.4},{"f":380,"v":-48.4},{"f":384.4,"v":-40.6},{"f":387.7,"v":-45.5},{"f":392.1,"v":-52.2},{"f":396.4,"v":-36.8},{"f":400.8,"v":-44.5},{"f":405.1,"v":-39.7},{"f":409.5,"v":-52.2},{"f":413.9,"v":-46.4},{"f":418.2,"v":-57},{"f":421.5,"v":-54.2},{"f":425.9,"v":-50.3},{"f":429.1,"v":-56.1},{"f":433.5,"v":-54.2},{"f":436.8,"v":-46.4},{"f":441.1,"v":-55.1},{"f":445.5,"v":-48.4},{"f":451,"v":-58},{"f":455.4,"v":-57},{"f":458.6,"v":-62.9},{"f":465.2,"v":-58},{"f":468.4,"v":-64.8},{"f":472.8,"v":-66.7},{"f":476,"v":-63.8},{"f":479.4,"v":-69.6},{"f":483.8,"v":-72},{"f":487,"v":-69.6},{"f":488.2,"v":-67.7},{"f":490.4,"v":-71},{"f":495,"v":-74},{"f":499.4,"v":-72}],
"p4c": [{"f":0,"v":-57},{"f":1,"v":-50.3},{"f":3,"v":-47.4},{"f":5,"v":-43.5},{"f":7,"v":-39.7},{"f":9,"v":-34.8},{"f":11,"v":-31.9},{"f":14,"v":-30},{"f":17,"v":-28},{"f":20,"v":-27.1},{"f":23,"v":-24.2},{"f":25,"v":-28},{"f":27,"v":-34.8},{"f":29,"v":-33.8},{"f":31,"v":-32.9},{"f":33,"v":-34.8},{"f":35,"v":-31},{"f":37,"v":-26.1},{"f":39,"v":-21.3},{"f":41,"v":-27.1},{"f":43,"v":-31.9},{"f":45,"v":-30},{"f":48,"v":-29},{"f":51,"v":-30},{"f":54,"v":-34.8},{"f":56,"v":-29},{"f":58,"v":-25.1},{"f":60,"v":-22.2},{"f":62,"v":-25.1},{"f":64,"v":-29},{"f":66,"v":-28},{"f":68,"v":-26.1},{"f":70,"v":-27.1},{"f":72,"v":-31},{"f":74,"v":-34.8},{"f":76,"v":-31.9},{"f":78,"v":-24.2},{"f":80,"v":-21.3},{"f":82,"v":-26.1},{"f":84,"v":-31},{"f":86,"v":-30},{"f":88,"v":-33.8},{"f":90,"v":-33.8},{"f":92,"v":-35.8},{"f":94,"v":-40.6},{"f":96,"v":-38.7},{"f":98,"v":-34.8},{"f":100,"v":-35.8},{"f":102,"v":-36.8},{"f":104,"v":-33.8},{"f":106,"v":-29},{"f":108,"v":-29},{"f":110,"v":-32.9},{"f":112,"v":-35.8},{"f":114,"v":-33.8},{"f":116,"v":-31},{"f":118,"v":-30},{"f":120,"v":-33.8},{"f":122,"v":-38.7},{"f":124,"v":-39.7},{"f":126,"v":-33.8},{"f":128,"v":-31.9},{"f":130,"v":-33.8},{"f":132,"v":-37.7},{"f":134,"v":-41.6},{"f":136,"v":-39.7},{"f":138,"v":-35.8},{"f":140,"v":-35.8},{"f":142,"v":-36.8},{"f":144,"v":-37.7},{"f":146,"v":-35.8},{"f":148,"v":-32.9},{"f":150,"v":-32.9},{"f":152,"v":-34.8},{"f":154,"v":-39.7},{"f":156,"v":-39.7},{"f":158,"v":-35.8},{"f":160,"v":-33.8},{"f":162,"v":-32.9},{"f":164,"v":-33.8},{"f":166,"v":-36.8},{"f":168,"v":-37.7},{"f":170,"v":-37.7},{"f":172,"v":-36.8},{"f":174,"v":-35.8},{"f":176,"v":-34.8},{"f":178,"v":-33.8},{"f":180,"v":-33.8},{"f":182,"v":-35.8},{"f":184,"v":-33.8},{"f":186,"v":-30},{"f":188,"v":-31.9},{"f":190,"v":-36.8},{"f":192,"v":-38.7},{"f":194,"v":-35.8},{"f":196,"v":-30},{"f":198,"v":-29},{"f":200,"v":-33.8},{"f":202,"v":-37.7},{"f":204,"v":-34.8},{"f":206,"v":-27.1},{"f":208,"v":-21.3},{"f":209,"v":-20.3},{"f":211,"v":-26.1},{"f":213,"v":-32.9},{"f":215,"v":-31.9},{"f":217,"v":-30},{"f":219,"v":-31.9},{"f":221,"v":-32.9},{"f":223,"v":-34.8},{"f":225,"v":-35.8},{"f":227,"v":-35.8},{"f":229,"v":-36.8},{"f":231,"v":-36.8},{"f":235,"v":-39.7},{"f":239.3,"v":-37.7},{"f":243.7,"v":-31.9},{"f":248,"v":-40.6},{"f":252.4,"v":-37.7},{"f":255.7,"v":-31.9},{"f":261.1,"v":-39.7},{"f":267.7,"v":-29},{"f":273.1,"v":-43.5},{"f":277.5,"v":-32.9},{"f":283,"v":-40.6},{"f":287.3,"v":-39.7},{"f":291.7,"v":-38.7},{"f":295,"v":-37.7},{"f":298.3,"v":-31.9},{"f":302.6,"v":-41.6},{"f":308.1,"v":-31.9},{"f":312.4,"v":-40.6},{"f":316.8,"v":-39.7},{"f":321.2,"v":-44.5},{"f":326.6,"v":-37.7},{"f":332.1,"v":-44.5},{"f":335.3,"v":-41.6},{"f":339.7,"v":-46.4},{"f":344.1,"v":-41.6},{"f":348.4,"v":-39.7},{"f":352.8,"v":-40.6},{"f":357.1,"v":-34.8},{"f":361.5,"v":-45.5},{"f":365.9,"v":-48.4},{"f":370.3,"v":-46.4},{"f":374.6,"v":-47.4},{"f":379,"v":-50.3},{"f":384.4,"v":-44.5},{"f":387.7,"v":-45.5},{"f":392.1,"v":-51.3},{"f":396.4,"v":-46.4},{"f":400.8,"v":-46.4},{"f":405.1,"v":-37.7},{"f":409.5,"v":-49.3},{"f":413.9,"v":-44.5},{"f":418.2,"v":-55.1},{"f":421.5,"v":-56.1},{"f":425.9,"v":-51.3},{"f":429.1,"v":-54.2},{"f":434.6,"v":-52.2},{"f":437.8,"v":-51.3},{"f":442.2,"v":-57},{"f":446.6,"v":-48.4},{"f":451,"v":-56.1},{"f":455.4,"v":-59},{"f":459.8,"v":-64.8},{"f":464.2,"v":-60},{"f":468.4,"v":-65.8},{"f":471.7,"v":-69.6},{"f":475,"v":-66.7},{"f":478.4,"v":-69.6},{"f":481.8,"v":-68.7},{"f":486.2,"v":-70},{"f":490.4,"v":-70.6},{"f":495.8,"v":-67.7},{"f":499.4,"v":-69.6}]
}
}
